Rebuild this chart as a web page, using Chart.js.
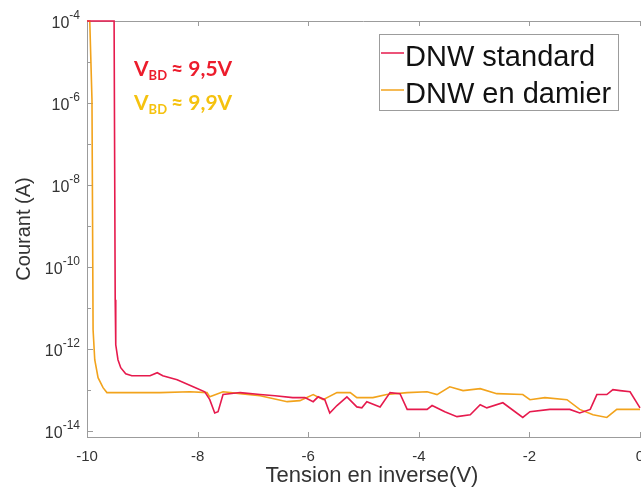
<!DOCTYPE html>
<html>
<head>
<meta charset="utf-8">
<script src="https://cdn.jsdelivr.net/npm/chart.js@4.4.1/dist/chart.umd.min.js"></script>
<style>
  html, body { margin: 0; padding: 0; background: #fff; overflow: hidden; }
  #wrap { width: 641px; height: 493px; overflow: hidden; }
</style>
</head>
<body>
<div id="wrap"><canvas id="ivChart" width="700" height="493"></canvas></div>
<script>
// Tension en inverse (V) / courant (A)
const standardV = [-10, -9.51, -9.49, -9.48, -9.44, -9.39, -9.30, -9.19, -8.86, -8.73, -8.63, -8.37, -8.08, -7.87, -7.78, -7.69, -7.63, -7.54, -7.23, -6.87, -6.60, -6.28, -6.06, -5.91, -5.82, -5.70, -5.61, -5.48, -5.30, -5.12, -5.03, -4.94, -4.70, -4.52, -4.34, -4.21, -3.85, -3.76, -3.53, -3.31, -3.07, -2.89, -2.77, -2.48, -2.12, -1.99, -1.63, -1.27, -1.09, -0.90, -0.78, -0.60, -0.49, -0.36, -0.18, 0];
const standardI = [1e-4, 1e-4, 1.57e-11, 1.25e-12, 5.4e-13, 3.44e-13, 2.45e-13, 2.19e-13, 2.19e-13, 2.6e-13, 2.19e-13, 1.75e-13, 1.18e-13, 8.9e-14, 5.7e-14, 2.7e-14, 2.9e-14, 7.6e-14, 8.5e-14, 7.6e-14, 7.1e-14, 6.4e-14, 6.4e-14, 5.1e-14, 6.7e-14, 5.7e-14, 2.7e-14, 4.1e-14, 6.7e-14, 3.8e-14, 3.6e-14, 5.1e-14, 3.8e-14, 8.5e-14, 8.0e-14, 3.3e-14, 3.3e-14, 4.1e-14, 2.9e-14, 2.2e-14, 2.45e-14, 4.3e-14, 3.6e-14, 4.8e-14, 2.1e-14, 2.9e-14, 3.3e-14, 3.3e-14, 2.7e-14, 3.3e-14, 7.6e-14, 7.6e-14, 1.0e-13, 9.5e-14, 8.9e-14, 3.6e-14];

const damierV = [-10, -9.95, -9.91, -9.89, -9.86, -9.80, -9.71, -9.64, -9.22, -8.68, -8.14, -7.83, -7.78, -7.54, -7.23, -6.87, -6.38, -6.15, -5.91, -5.73, -5.48, -5.24, -5.12, -4.83, -4.58, -4.21, -3.85, -3.67, -3.44, -3.20, -2.89, -2.59, -2.12, -1.99, -1.72, -1.32, -1.09, -0.85, -0.60, -0.42, 0];
const damierI = [1e-4, 1e-4, 1.18e-6, 2.9e-12, 5.4e-13, 1.96e-13, 1.12e-13, 8.5e-14, 8.5e-14, 8.5e-14, 8.9e-14, 8.5e-14, 6.7e-14, 8.9e-14, 8.0e-14, 7.1e-14, 5.1e-14, 5.4e-14, 7.6e-14, 5.7e-14, 8.5e-14, 8.5e-14, 6.4e-14, 6.4e-14, 7.6e-14, 8.5e-14, 8.9e-14, 7.6e-14, 1.18e-13, 9.5e-14, 1.06e-13, 8.0e-14, 7.6e-14, 5.7e-14, 6.4e-14, 5.7e-14, 3.3e-14, 2.45e-14, 2.1e-14, 3.3e-14, 3.3e-14];

const xTickValues = [-10, -8, -6, -4, -2, 0];
const yTickExponents = [-4, -6, -8, -10, -12, -14];
const seriesNames = ['DNW standard', 'DNW en damier'];
const seriesColors = ['#e61a4d', '#f2a31c'];

const FONT = '"Liberation Sans", Arial, sans-serif';

function toPoints(xs, ys) {
    return xs.map((v, i) => ({ x: v, y: ys[i] }));
}

// ticks interieurs, etiquettes 10^n, legende et annotations V_BD
const decorPlugin = {
    id: 'decor',
    beforeDatasetsDraw(chart) {
        const { ctx, chartArea: a, scales: { x, y } } = chart;
        ctx.save();
        ctx.strokeStyle = '#9c9c9c';
        ctx.lineWidth = 1;
        ctx.beginPath();
        ctx.moveTo(a.left, a.top + 0.5);
        ctx.lineTo(a.right, a.top + 0.5);
        xTickValues.forEach(v => {
            const px = Math.round(x.getPixelForValue(v)) + 0.5;
            ctx.moveTo(px, a.bottom);
            ctx.lineTo(px, a.bottom - 5);
            ctx.moveTo(px, a.top);
            ctx.lineTo(px, a.top + 5);
        });
        for (let e = -4; e >= -14; e--) {
            const py = Math.round(y.getPixelForValue(Math.pow(10, e))) + 0.5;
            const len = (e % 2 === 0) ? 6 : 4;
            ctx.moveTo(a.left, py);
            ctx.lineTo(a.left + len, py);
        }
        ctx.stroke();
        ctx.restore();
    },
    afterDraw(chart) {
        const { ctx, chartArea: a, scales: { y } } = chart;
        ctx.save();

        // etiquettes de l'axe y
        ctx.fillStyle = '#333';
        ctx.textBaseline = 'middle';
        yTickExponents.forEach(e => {
            const py = y.getPixelForValue(Math.pow(10, e));
            const right = a.left - 7;
            ctx.font = '12px ' + FONT;
            const expTxt = String(e);
            const ew = ctx.measureText(expTxt).width;
            ctx.textAlign = 'left';
            ctx.fillText(expTxt, right - ew, py - 5);
            ctx.font = '16px ' + FONT;
            ctx.textAlign = 'right';
            ctx.fillText('10', right - ew, py + 3);
        });

        // titre de l'axe x
        ctx.textAlign = 'center';
        ctx.textBaseline = 'alphabetic';
        ctx.font = '22px ' + FONT;
        ctx.fillStyle = '#333';
        ctx.fillText('Tension en inverse(V)', 372, 482);

        // legende
        ctx.fillStyle = '#fff';
        ctx.fillRect(379, 34, 239, 76);
        ctx.strokeStyle = '#9c9c9c';
        ctx.lineWidth = 1;
        ctx.strokeRect(379.5, 34.5, 239, 76);
        const rows = [66, 103];
        ctx.textAlign = 'left';
        ctx.font = '29px ' + FONT;
        seriesNames.forEach((name, i) => {
            ctx.strokeStyle = seriesColors[i];
            ctx.lineWidth = 1.5;
            ctx.beginPath();
            ctx.moveTo(381, rows[i] - 13);
            ctx.lineTo(404, rows[i] - 13);
            ctx.stroke();
            ctx.fillStyle = '#111';
            ctx.fillText(name, 405, rows[i]);
        });

        // annotations
        drawVbd(ctx, 134, 76, '#ec1c2c', '9,5V');
        drawVbd(ctx, 134, 110, '#f5c20f', '9,9V');

        ctx.restore();
    }
};

function drawVbd(ctx, x, base, color, value) {
    ctx.fillStyle = color;
    ctx.textAlign = 'left';
    ctx.textBaseline = 'alphabetic';
    ctx.font = 'bold 21px Lato, sans-serif';
    ctx.fillText('V', x, base);
    let cx = x + ctx.measureText('V').width;
    ctx.font = 'bold 13px Lato, sans-serif';
    ctx.fillText('BD', cx, base + 4);
    cx += ctx.measureText('BD').width + 4;
    ctx.font = 'bold 21px Lato, sans-serif';
    ctx.fillText('\u2248 ' + value, cx, base);
}

const ctx = document.getElementById('ivChart').getContext('2d');
new Chart(ctx, {
    type: 'line',
    data: {
        datasets: [{
            label: seriesNames[0],
            data: toPoints(standardV, standardI),
            borderColor: seriesColors[0],
            borderWidth: 1.6,
            pointRadius: 0,
            tension: 0,
            clip: 3
        }, {
            label: seriesNames[1],
            data: toPoints(damierV, damierI),
            borderColor: seriesColors[1],
            borderWidth: 1.6,
            pointRadius: 0,
            tension: 0,
            clip: 3
        }]
    },
    options: {
        responsive: false,
        animation: false,
        layout: { padding: { top: 21, right: 60, left: 0, bottom: 0 } },
        plugins: {
            legend: { display: false },
            tooltip: { enabled: false }
        },
        scales: {
            x: {
                type: 'linear',
                min: -10,
                max: 0,
                ticks: {
                    stepSize: 2,
                    padding: 11,
                    color: '#333',
                    font: { size: 15, family: FONT }
                },
                grid: { display: false, drawTicks: false },
                border: { color: '#9c9c9c' },
                afterFit: s => { s.height = 56; }
            },
            y: {
                type: 'logarithmic',
                min: 7e-15,
                max: 1e-4,
                ticks: { display: false },
                grid: { display: false, drawTicks: false },
                border: { color: '#9c9c9c' },
                title: {
                    display: true,
                    text: 'Courant (A)',
                    color: '#333',
                    font: { size: 20, family: FONT },
                    padding: { top: 12 }
                },
                afterFit: s => { s.width = 87; }
            }
        }
    },
    plugins: [decorPlugin]
});
</script>
</body>
</html>
